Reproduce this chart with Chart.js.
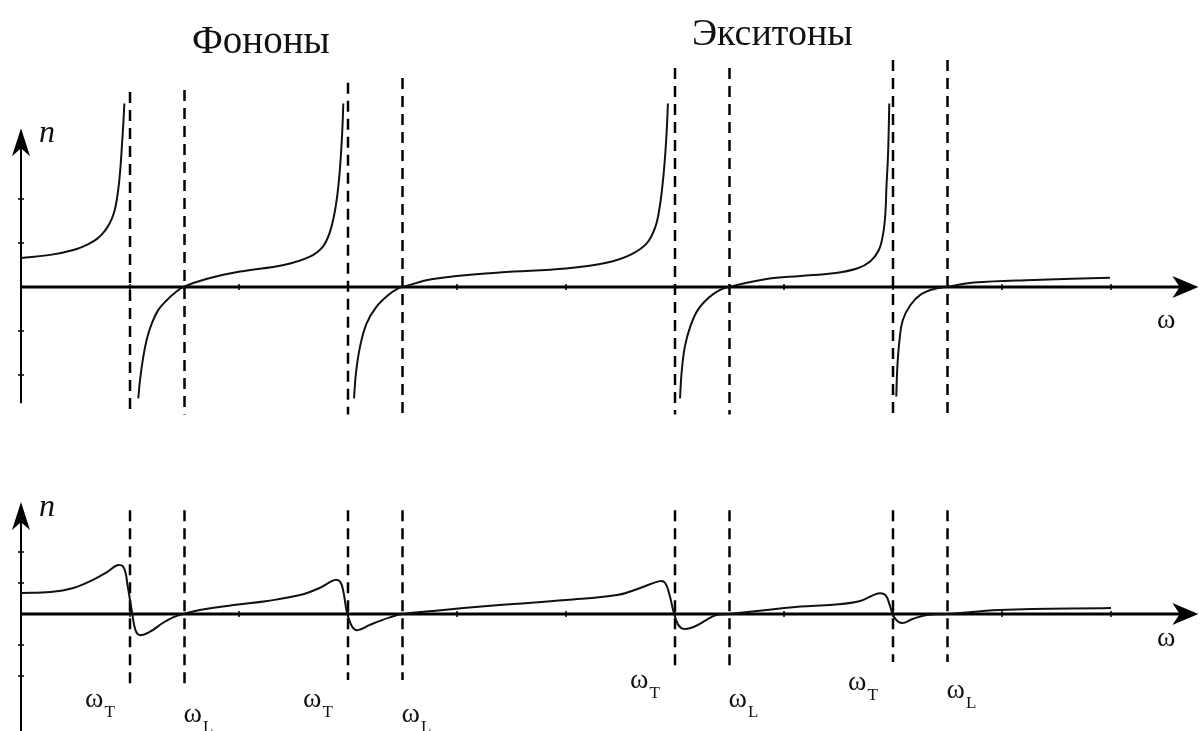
<!DOCTYPE html>
<html lang="ru">
<head>
<meta charset="utf-8">
<title>Фононы и экситоны</title>
<script src="https://cdn.jsdelivr.net/npm/chart.js@4.4.1/dist/chart.umd.min.js"></script>
<style>
  body { margin: 0; background: #fff; }
  .panel { position: absolute; left: 0; }
</style>
</head>
<body>
<div class="panel" style="top:0"><canvas id="topChart" width="1202" height="420"></canvas></div>
<div class="panel" style="top:420px"><canvas id="bottomChart" width="1202" height="311"></canvas></div>
<script>
// Резонансные частоты (ось ω, в делениях)
const omegaT = [1, 3, 6, 8];
const omegaL = [1.5, 3.5, 6.5, 8.5];
const titles = ["Фононы", "Экситоны"];
const xTicks = [1, 2, 3, 4, 5, 6, 7, 8, 9, 10];
const yTicks = [-2, -1, 1, 2];

// Верхний график: n(ω) без затухания, по ветвям
const topW1 = [0, 0.27, 0.48, 0.63, 0.70, 0.75, 0.79, 0.83, 0.86, 0.88, 0.90, 0.915, 0.927, 0.939, 0.948];
const topN1 = [0.66, 0.73, 0.84, 0.99, 1.10, 1.22, 1.35, 1.53, 1.75, 2.0, 2.38, 2.8, 3.26, 3.72, 4.17];
const topW2 = [1.076, 1.092, 1.117, 1.153, 1.199, 1.26, 1.337, 1.413, 1.489, 1.70, 2.01, 2.41, 2.65,
  2.77, 2.83, 2.87, 2.90, 2.92, 2.936, 2.948, 2.957];
const topN2 = [-2.53, -2.11, -1.66, -1.2, -0.83, -0.52, -0.3, -0.13, 0, 0.18, 0.35, 0.5, 0.69,
  0.92, 1.22, 1.6, 2.05, 2.51, 3.04, 3.57, 4.17];
const topW3 = [3.055, 3.073, 3.11, 3.17, 3.26, 3.37, 3.46, 3.5, 3.78, 4.39, 5.0, 5.37, 5.59,
  5.74, 5.82, 5.86, 5.89, 5.91, 5.925, 5.935];
const topN3 = [-2.53, -1.96, -1.36, -0.83, -0.45, -0.18, -0.03, 0, 0.18, 0.33, 0.42, 0.55, 0.73,
  0.99, 1.37, 1.83, 2.43, 3.0, 3.6, 4.17];
const topW4 = [6.046, 6.06, 6.09, 6.14, 6.21, 6.32, 6.41, 6.49, 6.84, 7.15, 7.45, 7.67, 7.79,
  7.87, 7.91, 7.93, 7.94, 7.955, 7.966];
const topN4 = [-2.53, -1.96, -1.36, -0.9, -0.52, -0.22, -0.07, 0, 0.18, 0.25, 0.31, 0.42, 0.58,
  0.84, 1.22, 1.67, 2.28, 3.04, 4.17];
const topW5 = [8.03, 8.04, 8.06, 8.09, 8.16, 8.25, 8.37, 8.49, 8.74, 9.29, 9.99];
const topN5 = [-2.49, -1.81, -1.2, -0.75, -0.41, -0.18, -0.05, 0, 0.1, 0.16, 0.21];

// Нижний график: n(ω) с затуханием
const botW = [0, 0.27, 0.48, 0.66, 0.79, 0.89, 0.945, 0.98, 1.02, 1.05,
  1.09, 1.18, 1.30, 1.40, 1.49, 1.64, 1.95, 2.26, 2.56, 2.74,
  2.88, 2.93, 2.96, 2.99, 3.04, 3.09, 3.20, 3.39, 3.5, 3.78,
  4.39, 5.0, 5.47, 5.68, 5.86, 5.91, 5.95, 5.99, 6.03, 6.08,
  6.17, 6.29, 6.38, 6.49, 6.84, 7.15, 7.45, 7.70, 7.86, 7.93,
  7.97, 8.01, 8.08, 8.18, 8.31, 8.5, 8.98, 10.0];
const botN = [0.68, 0.71, 0.84, 1.1, 1.35, 1.58, 1.48, 0.87, 0.03, -0.52,
  -0.68, -0.58, -0.29, -0.1, 0, 0.13, 0.29, 0.42, 0.61, 0.84,
  1.1, 1.03, 0.68, 0.06, -0.42, -0.52, -0.35, -0.1, 0, 0.1,
  0.29, 0.45, 0.61, 0.84, 1.06, 1.0, 0.61, 0.03, -0.35, -0.48,
  -0.42, -0.19, -0.03, 0, 0.13, 0.24, 0.3, 0.42, 0.66, 0.61,
  0.29, -0.1, -0.29, -0.16, -0.03, 0, 0.13, 0.19];

const X_MAX = 10.82;
const SERIF = '"Liberation Serif", "DejaVu Serif", serif';

function pts(ws, ns) {
  return ws.map((w, i) => ({ x: w, y: ns[i] }));
}

function curve(ws, ns) {
  return {
    data: pts(ws, ns),
    borderColor: "#111",
    borderWidth: 2,
    pointRadius: 0,
    tension: 0.4,
  };
}

function dash(w, top, bottom) {
  return {
    data: [{ x: w, y: top }, { x: w, y: bottom }],
    borderColor: "#000",
    borderWidth: 2.5,
    borderDash: [11, 7],
    pointRadius: 0,
  };
}

function arrow(ctx, tx, ty, dx, dy, len, half) {
  const px = -dy, py = dx;
  ctx.beginPath();
  ctx.moveTo(tx, ty);
  ctx.lineTo(tx - dx * len + px * half, ty - dy * len + py * half);
  ctx.lineTo(tx - dx * len * 0.72, ty - dy * len * 0.72);
  ctx.lineTo(tx - dx * len - px * half, ty - dy * len - py * half);
  ctx.closePath();
  ctx.fill();
}

function omegaLabel(ctx, x, y, sub) {
  ctx.font = "28px " + SERIF;
  ctx.fillText("ω", x, y);
  const w = ctx.measureText("ω").width;
  ctx.font = "17px " + SERIF;
  ctx.fillText(sub, x + w + 1, y + 10);
}

function decorPlugin(o) {
  return {
    id: "decor",
    beforeDatasetsDraw(chart) {
      const ctx = chart.ctx;
      const sx = chart.scales.x, sy = chart.scales.y;
      const x0 = sx.getPixelForValue(0), y0 = sy.getPixelForValue(0);
      const xEnd = sx.getPixelForValue(X_MAX) - 2;
      const yTop = sy.getPixelForValue(o.yAxisTop);
      ctx.save();
      ctx.strokeStyle = "#000";
      ctx.fillStyle = "#000";
      // ось ω
      ctx.lineWidth = 3;
      ctx.beginPath();
      ctx.moveTo(x0, y0);
      ctx.lineTo(xEnd - 15, y0);
      ctx.stroke();
      arrow(ctx, xEnd, y0, 1, 0, 26, 11);
      // ось n
      ctx.lineWidth = 2;
      ctx.beginPath();
      ctx.moveTo(x0, sy.getPixelForValue(o.yAxisBottom));
      ctx.lineTo(x0, yTop + 15);
      ctx.stroke();
      arrow(ctx, x0, yTop, 0, -1, 28, 9);
      // деления
      ctx.lineWidth = 1.5;
      for (const t of xTicks) {
        const px = sx.getPixelForValue(t);
        ctx.beginPath();
        ctx.moveTo(px, y0 - 3);
        ctx.lineTo(px, y0 + 3);
        ctx.stroke();
      }
      for (const t of yTicks) {
        const py = sy.getPixelForValue(t);
        ctx.beginPath();
        ctx.moveTo(x0 - 3, py);
        ctx.lineTo(x0 + 3, py);
        ctx.stroke();
      }
      ctx.restore();
    },
    afterDatasetsDraw(chart) {
      const ctx = chart.ctx;
      const sx = chart.scales.x, sy = chart.scales.y;
      const x0 = sx.getPixelForValue(0);
      ctx.save();
      ctx.fillStyle = "#111";
      ctx.textBaseline = "alphabetic";
      ctx.font = "italic 32px " + SERIF;
      ctx.fillText("n", x0 + 18, sy.getPixelForValue(o.yAxisTop) + o.nShift);
      ctx.font = "28px " + SERIF;
      ctx.fillText("ω", 1157, o.omegaBase);
      if (o.titles) {
        ctx.font = "39px " + SERIF;
        ctx.fillText(titles[0], 192, 53);
        ctx.font = "38px " + SERIF;
        ctx.fillText(titles[1], 692, 45);
      }
      if (o.labels) {
        omegaT.forEach((w, i) => {
          omegaLabel(ctx, sx.getPixelForValue(w) - 45, o.tBase[i], "T");
        });
        omegaL.forEach((w, i) => {
          omegaLabel(ctx, sx.getPixelForValue(w) - 1, o.lBase[i], "L");
        });
      }
      ctx.restore();
    },
  };
}

function makeChart(id, datasets, yMin, yMax, decor) {
  return new Chart(document.getElementById(id), {
    type: "line",
    data: { datasets: datasets },
    options: {
      responsive: false,
      animation: false,
      devicePixelRatio: 1,
      layout: { padding: { left: 21, right: 1202 - 21 - X_MAX * 109, top: 0, bottom: 0 } },
      scales: {
        x: { type: "linear", min: 0, max: X_MAX, display: false },
        y: { min: yMin, max: yMax, display: false },
      },
      plugins: { legend: { display: false }, tooltip: { enabled: false } },
    },
    plugins: [decorPlugin(decor)],
  });
}

// штриховые линии: верх/низ в единицах n
const topDashTop = [4.43, 4.64, 4.98, 5.16];
const topDashTopL = [4.48, 4.75, 4.98, 5.16];
const botDashBottom = [-2.39, -2.13, -1.81, -1.55];

const topSets = [
  curve(topW1, topN1), curve(topW2, topN2), curve(topW3, topN3),
  curve(topW4, topN4), curve(topW5, topN5),
];
omegaT.forEach((w, i) => topSets.push(dash(w, topDashTop[i], -2.9)));
omegaL.forEach((w, i) => topSets.push(dash(w, topDashTopL[i], -2.9)));

const botSets = [curve(botW, botN)];
omegaT.forEach((w, i) => botSets.push(dash(w, 3.35, botDashBottom[i])));
omegaL.forEach((w, i) => botSets.push(dash(w, 3.35, botDashBottom[i])));

makeChart("topChart", topSets, -(420 - 287) / 44, 287 / 44, {
  yAxisTop: 3.61, yAxisBottom: -2.64, nShift: 14, omegaBase: 328, titles: true,
});
makeChart("bottomChart", botSets, -(311 - 194) / 31, 194 / 31, {
  yAxisTop: 3.61, yAxisBottom: -3.9, nShift: 14, omegaBase: 226, labels: true,
  tBase: [287, 287, 268, 270], lBase: [302, 302, 287, 278],
});
</script>
</body>
</html>
